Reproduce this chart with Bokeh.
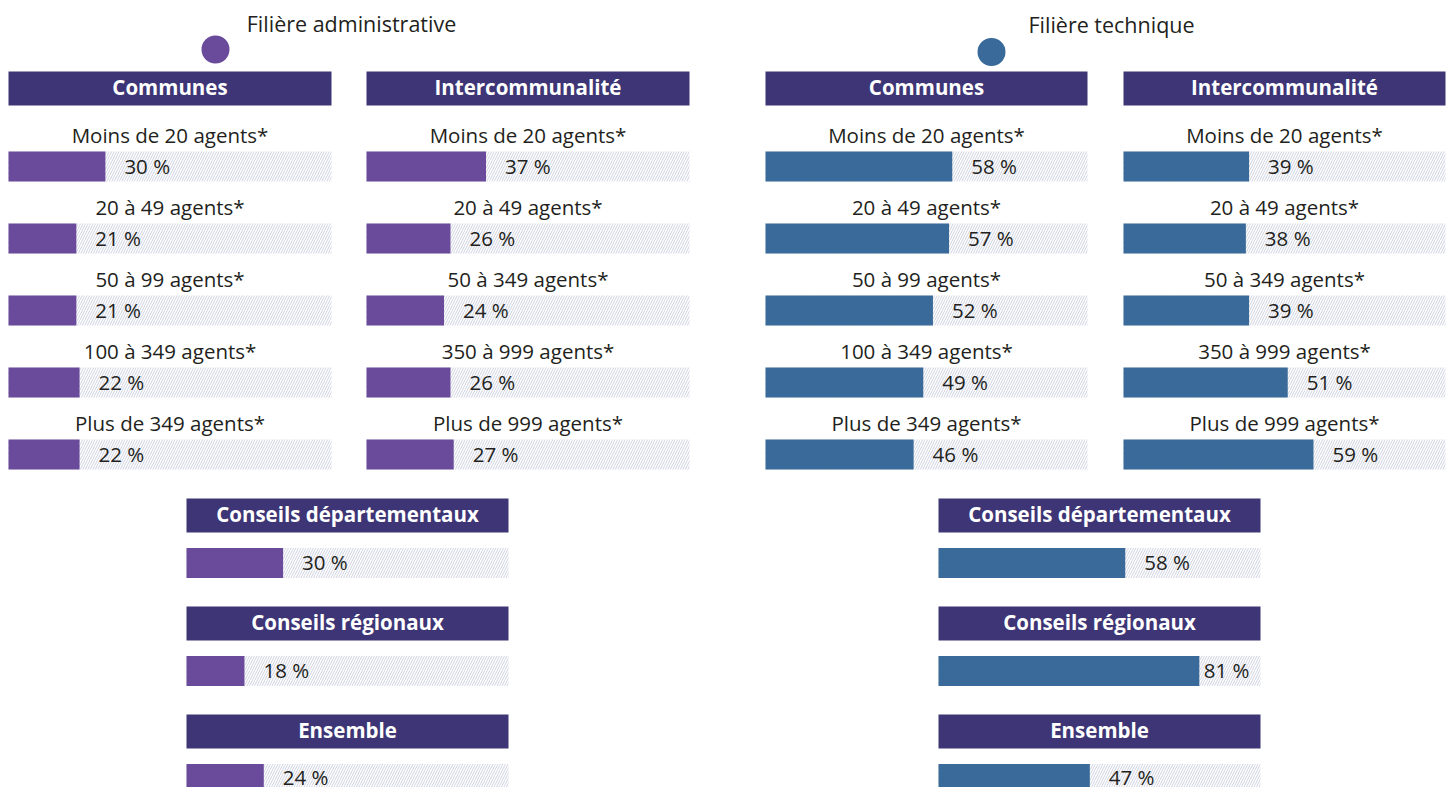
from bokeh.plotting import figure
from bokeh.models import Range1d, ColumnDataSource
from bokeh.core.properties import value
from bokeh.embed import file_html
from bokeh.resources import INLINE

# ---------------- data ----------------
filieres = ["Filière administrative", "Filière technique"]
communes_labels = ["Moins de 20 agents", "20 à 49 agents", "50 à 99 agents",
                   "100 à 349 agents", "Plus de 349 agents"]
interco_labels = ["Moins de 20 agents", "20 à 49 agents", "50 à 349 agents",
                  "350 à 999 agents", "Plus de 999 agents"]
other_labels = ["Conseils départementaux", "Conseils régionaux", "Ensemble"]
admin_communes = [30, 21, 21, 22, 22]
admin_interco = [37, 26, 24, 26, 27]
admin_other = [30, 18, 24]
tech_communes = [58, 57, 52, 49, 46]
tech_interco = [39, 38, 39, 51, 59]
tech_other = [58, 81, 47]

# ---------------- style ----------------
PURPLE = "#694a9b"
BLUE = "#396a9a"
NAVY = "#3d3575"
TEXT = "#231f20"
HATCH = "#b9bdd2"
FONT = value("Open Sans")

FIG_W, FIG_H = 1450, 787
X0, Y0 = 0, 0
TY = -8  # text baseline correction

p = figure(width=FIG_W, height=FIG_H, x_range=Range1d(X0, X0 + FIG_W),
           y_range=Range1d(Y0 + FIG_H, Y0), output_backend="svg",
           toolbar_location=None, min_border=0, x_axis_type=None, y_axis_type=None)
p.grid.visible = False
p.outline_line_color = None
p.background_fill_color = "white"

BAR_H = 30
HEAD_H = 34


def panel_range(name, left, width):
    p.extra_x_ranges[name] = Range1d((X0 - left) / width * 100.0,
                                     (X0 + FIG_W - left) / width * 100.0)
    return name


def draw_header(rn, yc, title):
    p.quad(left=0, right=100, top=yc - HEAD_H / 2, bottom=yc + HEAD_H / 2,
           fill_color=NAVY, line_color=None, x_range_name=rn)
    p.text(x=[50], y=[yc + 6.5 + TY], text=[title], x_range_name=rn,
           text_font=FONT, text_font_style="bold", text_font_size="20.5px",
           text_color="white", text_align="center", text_baseline="alphabetic")


def draw_bars(rn, ys, vals, color, width):
    src = ColumnDataSource(dict(y=ys, v=vals,
                                lx=[min(v, 76.5) for v in vals],
                                ly=[min(y + 7 + TY, FIG_H - 11) for y in ys],
                                t=[f"{v} %" for v in vals]))
    p.hbar(y="y", left=0, right=100, height=BAR_H, source=src, x_range_name=rn,
           fill_color="white", line_color=None, hatch_pattern="/",
           hatch_color=HATCH, hatch_scale=5, hatch_weight=0.7)
    p.hbar(y="y", left=0, right="v", height=BAR_H, source=src, x_range_name=rn,
           fill_color=color, line_color=None)
    p.text(x="lx", y="ly", text="t", source=src, x_range_name=rn, x_offset=19,
           text_font=FONT, text_font_size="20.5px", text_color=TEXT,
           text_align="left", text_baseline="alphabetic")


def draw_top_panel(name, left, width, title, labels, vals, color):
    rn = panel_range(name, left, width)
    draw_header(rn, 88, title)
    ys = [166 + 72 * i for i in range(len(vals))]
    p.text(x=[50] * len(labels), y=[y - 24 + TY for y in ys],
           text=[l + "*" for l in labels],
           x_range_name=rn, text_font=FONT, text_font_size="20.5px", text_color=TEXT,
           text_align="center", text_baseline="alphabetic")
    draw_bars(rn, ys, vals, color, width)


def draw_bottom_panel(name, left, width, labels, vals, color):
    rn = panel_range(name, left, width)
    ys = [562.5 + 108 * i for i in range(len(vals))]
    for lab, y in zip(labels, ys):
        draw_header(rn, y - 47.5, lab)
    draw_bars(rn, ys, vals, color, width)


# titles + dots
p.text(x=[351, 1111], y=[31 + TY, 32 + TY], text=filieres, text_font=FONT,
       text_font_size="21.5px", text_color=TEXT, text_align="center",
       text_baseline="alphabetic")
p.circle(x=[215, 991], y=[49, 51.5], radius=14, fill_color=[PURPLE, BLUE],
         line_color=None)

draw_top_panel("ac", 8, 323, "Communes", communes_labels, admin_communes, PURPLE)
draw_top_panel("ai", 366, 323, "Intercommunalité", interco_labels, admin_interco, PURPLE)
draw_top_panel("tc", 765, 322, "Communes", communes_labels, tech_communes, BLUE)
draw_top_panel("ti", 1123, 322, "Intercommunalité", interco_labels, tech_interco, BLUE)
draw_bottom_panel("ao", 186, 322, other_labels, admin_other, PURPLE)
draw_bottom_panel("to", 938, 322, other_labels, tech_other, BLUE)

open("out.html", "w").write(file_html(p, INLINE))
